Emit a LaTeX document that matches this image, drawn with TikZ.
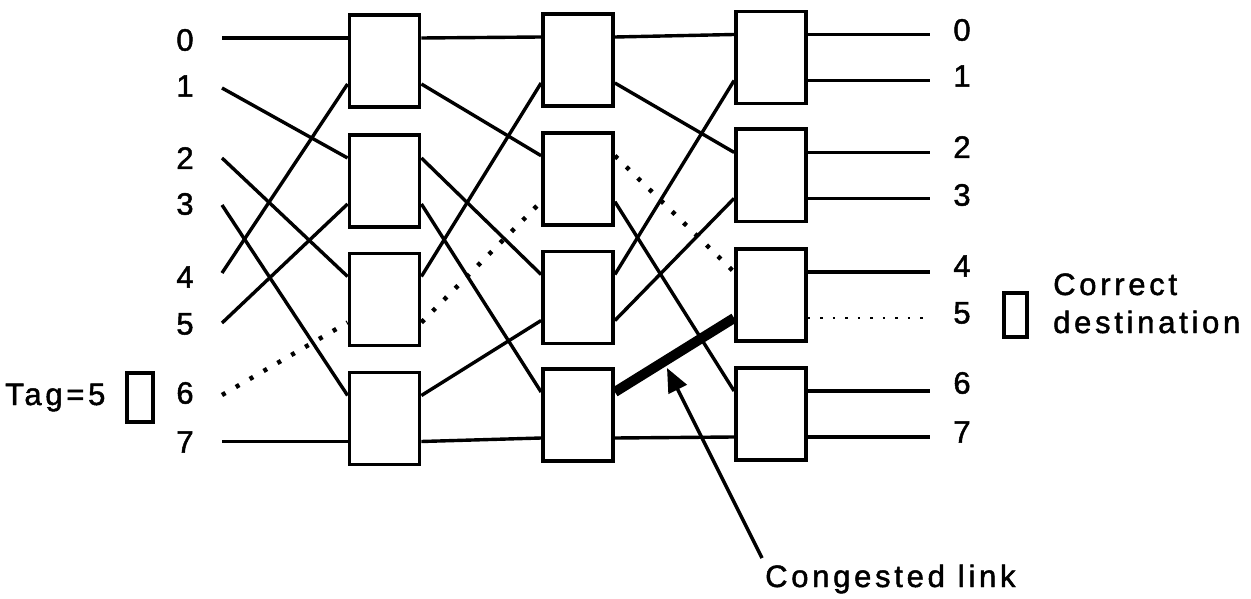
\documentclass[tikz,border=0pt]{standalone}
\usepackage{fontspec}
\setmainfont{Liberation Sans}[LetterSpace=12,FakeBold=1.5]
\usetikzlibrary{arrows.meta}
\begin{document}
\begin{tikzpicture}[x=1pt,y=-1pt,
  sw/.style={draw, line width=3.8pt, minimum width=70pt, minimum height=92pt, inner sep=0pt},
  wire/.style={line width=3.4pt},
  dotwire/.style={line width=4.5pt, dash pattern=on 4pt off 12pt},
  finedots/.style={line width=2.8pt, dash pattern=on 2.5pt off 10pt},
  congested/.style={line width=10pt},
  num/.style={font=\fontsize{31}{34}\selectfont, inner sep=0pt},
  lbl/.style={font=\fontsize{31}{34}\selectfont, anchor=base west, inner sep=0pt},
  tagbox/.style={draw, line width=3.2pt}]
\useasboundingbox (0,0) rectangle (1251,599);

% switches
\node[sw] (s11) at (384.5,61) {};
\node[sw] (s12) at (384.5,181) {};
\node[sw] (s13) at (384.5,299.5) {};
\node[sw] (s14) at (384.5,418.5) {};
\node[sw] (s21) at (578,60) {};
\node[sw] (s22) at (578,178.7) {};
\node[sw] (s23) at (578,297.5) {};
\node[sw] (s24) at (578,415) {};
\node[sw] (s31) at (771,57.5) {};
\node[sw] (s32) at (771,175.4) {};
\node[sw] (s33) at (771,295) {};
\node[sw] (s34) at (771,414) {};

% input labels
\node[num] (l0) at (185,40) {0};
\node[num] (l1) at (185,86) {1};
\node[num] (l2) at (185,158) {2};
\node[num] (l3) at (185,204) {3};
\node[num] (l4) at (185,277) {4};
\node[num] (l5) at (185,324) {5};
\node[num] (l6) at (185,393) {6};
\node[num] (l7) at (185,442) {7};

% output labels
\node[num] (r0) at (962,30) {0};
\node[num] (r1) at (962,76) {1};
\node[num] (r2) at (962,147) {2};
\node[num] (r3) at (962,195) {3};
\node[num] (r4) at (962,266) {4};
\node[num] (r5) at (962,313) {5};
\node[num] (r6) at (962,383) {6};
\node[num] (r7) at (962,432) {7};

% free ends
\coordinate (in0) at (222,38);
\coordinate (in1) at (222,88);
\coordinate (in2) at (222,158);
\coordinate (in3) at (222,205);
\coordinate (in4) at (222,273);
\coordinate (in5) at (222,323);
\coordinate (in6) at (222,395);
\coordinate (in7) at (222,441.5);
\coordinate (o0) at (930,34.5);
\coordinate (o1) at (930,80.5);
\coordinate (o2) at (930,152.4);
\coordinate (o3) at (930,198.4);
\coordinate (o4) at (930,272);
\coordinate (o5) at (930,318);
\coordinate (o6) at (930,391);
\coordinate (o7) at (930,437);

% stage 0
\draw[wire] (in0) -- ([yshift=23pt]s11.west);
\draw[wire] (in1) -- ([yshift=23pt]s12.west);
\draw[wire] (in2) -- ([yshift=23pt]s13.west);
\draw[wire] (in3) -- ([yshift=23pt]s14.west);
\draw[wire] (in4) -- ([yshift=-23pt]s11.west);
\draw[wire] (in5) -- ([yshift=-23pt]s12.west);
\draw[dotwire] (in6) -- ([yshift=-23pt]s13.west);
\draw[wire] (in7) -- ([yshift=-23pt]s14.west);

% stage 1
\draw[wire] ([yshift=23pt]s11.east) -- ([yshift=23pt]s21.west);
\draw[wire] ([yshift=-23pt]s11.east) -- ([yshift=23pt]s22.west);
\draw[wire] ([yshift=23pt]s12.east) -- ([yshift=23pt]s23.west);
\draw[wire] ([yshift=-23pt]s12.east) -- ([yshift=23pt]s24.west);
\draw[wire] ([yshift=23pt]s13.east) -- ([yshift=-23pt]s21.west);
\draw[dotwire] ([yshift=-23pt]s13.east) -- ([yshift=-23pt]s22.west);
\draw[wire] ([yshift=23pt]s14.east) -- ([yshift=-23pt]s23.west);
\draw[wire] ([yshift=-23pt]s14.east) -- ([yshift=-23pt]s24.west);

% stage 2
\draw[wire] ([yshift=23pt]s21.east) -- ([yshift=23pt]s31.west);
\draw[wire] ([yshift=-23pt]s21.east) -- ([yshift=23pt]s32.west);
\draw[dotwire] ([yshift=23pt]s22.east) -- ([yshift=23pt]s33.west);
\draw[wire] ([yshift=-23pt]s22.east) -- ([yshift=23pt]s34.west);
\draw[wire] ([yshift=23pt]s23.east) -- ([yshift=-23pt]s31.west);
\draw[wire] ([yshift=-23pt]s23.east) -- ([yshift=-23pt]s32.west);
\draw[congested] ([yshift=23pt]s24.east) -- ([yshift=-23pt]s33.west);
\draw[wire] ([yshift=-23pt]s24.east) -- ([yshift=-23pt]s34.west);

% outputs
\draw[wire] ([yshift=23pt]s31.east) -- (o0);
\draw[wire] ([yshift=-23pt]s31.east) -- (o1);
\draw[wire] ([yshift=23pt]s32.east) -- (o2);
\draw[wire] ([yshift=-23pt]s32.east) -- (o3);
\draw[wire] ([yshift=23pt]s33.east) -- (o4);
\draw[finedots] ([yshift=-23pt]s33.east) -- (o5);
\draw[wire] ([yshift=23pt]s34.east) -- (o6);
\draw[wire] ([yshift=-23pt]s34.east) -- (o7);

% tag and destination
\node[lbl] (tag) at (5,405) {Tag=5};
\draw[tagbox] (127,373) rectangle (153,422);
\draw[tagbox] (1004,293) rectangle (1027,337);
\node[lbl] (cor) at (1053,295) {Correct};
\node[lbl] (dest) at (1053,333) {destination};

% congested link annotation
\coordinate (ctail) at (762,558);
\coordinate (ctip) at (667,368);
\draw[wire, -{Triangle[length=24pt,width=20pt]}] (ctail) -- (ctip);
\node[lbl] (cong) at (765,587) {Congested\hspace{13pt}link};
\end{tikzpicture}
\end{document}
